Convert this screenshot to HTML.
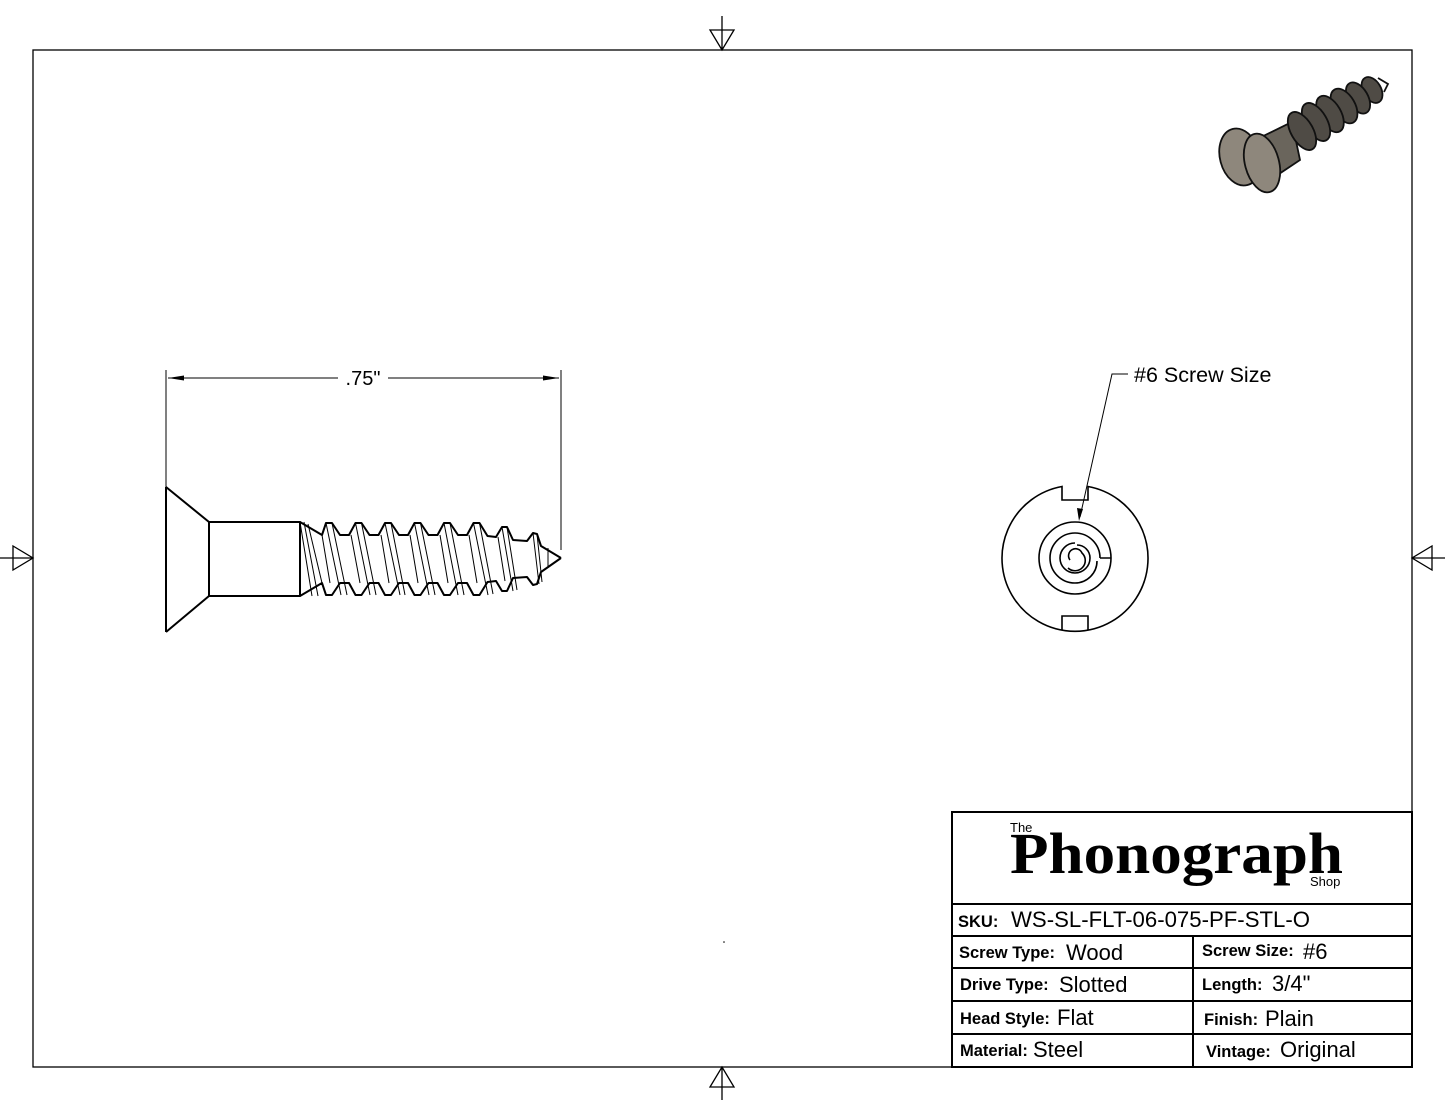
<!DOCTYPE html>
<html><head><meta charset="utf-8"><style>
html,body{margin:0;padding:0;background:#fff;}
svg{display:block;font-family:"Liberation Sans",Arial,sans-serif;}
.b{font-weight:bold;font-size:16.5px;}
.v{font-size:22px;}
</style></head><body>
<svg width="1445" height="1117" viewBox="0 0 1445 1117" xmlns="http://www.w3.org/2000/svg">
<g fill="none" stroke="#000" stroke-width="1.3">
<rect x="33" y="50" width="1379" height="1017"/>
<path d="M722,16V50 M710,30H734L722,50Z"/>
<path d="M722,1067V1100 M710,1087H734L722,1067Z"/>
<path d="M0,558H33 M13,546V570L33,558Z"/>
<path d="M1412,558H1445 M1432,546V570L1412,558Z"/>
</g>
<g stroke="#000" stroke-width="1" fill="none">
<path d="M166,370V487 M561,370V550"/>
<path d="M168,378H338 M388,378H559"/>
</g>
<path d="M168,378L184,375.5V380.5Z M559,378L543,375.5V380.5Z" fill="#000"/>
<text x="363" y="385" font-size="20" text-anchor="middle">.75"</text>
<g fill="none" stroke="#000" stroke-width="2" stroke-linejoin="round">
<path d="M166,487V632 M166,487L209,522 M166,632L209,596"/>
<rect x="209" y="522" width="91" height="74"/>
<path d="M300,522 L322,535 L326,523 L332,523 L340,535 L349,535 L355.5,523 L361.5,523 L369.5,535 L378.5,535 L385,523 L391,523 L399,535 L408,535 L414.5,523 L420.5,523 L428.5,535 L437.5,535 L444,523 L450,523 L458,535 L467,535 L473.5,523 L479.5,523 L487.5,536 L496,537 L502,527 L507,527 L513,540 L527,541 L533,533 L537,534 L541,546 L561,558"/>
<path d="M300,596 L322,583 L326,595 L332,595 L340,583 L349,583 L355.5,595 L361.5,595 L369.5,583 L378.5,583 L385,595 L391,595 L399,583 L408,583 L414.5,595 L420.5,595 L428.5,583 L437.5,583 L444,595 L450,595 L458,583 L467,583 L473.5,595 L479.5,595 L487.5,582 L496,581 L502,591 L507,591 L513,578 L527,577 L533,585 L537,584 L541,572 L561,558"/>
</g>
<g fill="none" stroke="#000" stroke-width="1">
<path d="M300,522L312,596 M304,522L318,596 M308,524L322,583"/>
<path d="M326,523L341,595 M332,523L347,595 M322,535L330,583"/>
<path d="M355.5,523L370,595 M361.5,523L376,595 M351,535L360,583"/>
<path d="M385,523L400,595 M391,523L405,595 M381,535L389,583"/>
<path d="M414.5,523L429,595 M420.5,523L435,595 M410,535L418,583"/>
<path d="M444,523L458,595 M450,523L464,595 M440,535L448,583"/>
<path d="M473.5,523L488,595 M479.5,523L493,594 M469,535L477,583"/>
<path d="M502,527L513,591 M507,527L517,590 M498,537L505,581"/>
<path d="M533,533L539,584 M537,534L542,582 M548,548V568"/>
</g>
<g fill="none" stroke="#000" stroke-width="1.6">
<path d="M1062,486.5 A73,73 0 1 0 1088,486.5 V500 H1062 Z" />
<path d="M1062,629.5V616H1088V629.5"/>
<circle cx="1075" cy="558" r="36"/>
<path d="M1100,558 A25,25 0 1 0 1075,583 A22,22 0 0 0 1097,561 M1100,558H1111"/>
<path d="M1075,543 A15,15 0 1 0 1090,558 A13,13 0 0 0 1077,545"/>
<path d="M1070,560 A7,7 0 1 1 1082,553 A10,10 0 0 1 1068,568"/>
</g>
<path d="M1128,374H1112L1080,517" fill="none" stroke="#000" stroke-width="1"/>
<path d="M1079,521L1077,508L1083,509Z" fill="#000"/>
<text x="1134" y="382" font-size="21.5">#6 Screw Size</text>
<!-- iso screw -->
<g stroke="#111" stroke-width="1.8">
<path d="M1255,140 L1292,122 L1300,160 L1270,180 Z" fill="#6a655c"/>
<g fill="#4f4b45">
<ellipse cx="1372" cy="90" rx="9" ry="14" transform="rotate(-30 1372 90)"/>
<ellipse cx="1358" cy="98" rx="10" ry="17" transform="rotate(-30 1358 98)"/>
<ellipse cx="1344" cy="106" rx="11" ry="19" transform="rotate(-30 1344 106)"/>
<ellipse cx="1330" cy="114" rx="11" ry="20" transform="rotate(-30 1330 114)"/>
<ellipse cx="1316" cy="122" rx="11" ry="21" transform="rotate(-30 1316 122)"/>
<ellipse cx="1302" cy="131" rx="11" ry="21" transform="rotate(-30 1302 131)"/>
</g>
<path d="M1378,78 L1388,84 L1384,92" fill="none"/>
<ellipse cx="1240" cy="157" rx="20" ry="29" transform="rotate(-15 1240 157)" fill="#8e877c"/>
<ellipse cx="1262" cy="163" rx="17" ry="30" transform="rotate(-15 1262 163)" fill="#8e877c"/>
</g>
<g fill="none" stroke="#000" stroke-width="2">
<rect x="952" y="812" width="460" height="255"/>
<path d="M952,904H1412 M952,936H1412 M952,968H1412 M952,1001H1412 M952,1034H1412 M1193,936V1067"/>
</g>
<text x="1010" y="832" font-size="13">The</text>
<text x="1010" y="873" font-family="Liberation Serif,serif" font-weight="bold" font-size="58" textLength="333" lengthAdjust="spacingAndGlyphs">Phonograph</text>
<text x="1310" y="886" font-size="13">Shop</text>
<text x="958" y="927" class="b">SKU:</text><text x="1011" y="927" class="v" textLength="299" lengthAdjust="spacingAndGlyphs">WS-SL-FLT-06-075-PF-STL-O</text>
<text x="959" y="958" class="b">Screw Type:</text><text x="1066" y="960" class="v">Wood</text>
<text x="1202" y="956" class="b">Screw Size:</text><text x="1303" y="959" class="v">#6</text>
<text x="960" y="990" class="b">Drive Type:</text><text x="1059" y="992" class="v">Slotted</text>
<text x="1202" y="990" class="b">Length:</text><text x="1272" y="991" class="v">3/4"</text>
<text x="960" y="1024" class="b">Head Style:</text><text x="1057" y="1025" class="v">Flat</text>
<text x="1204" y="1025" class="b">Finish:</text><text x="1265" y="1026" class="v">Plain</text>
<text x="960" y="1056" class="b">Material:</text><text x="1033" y="1057" class="v">Steel</text>
<text x="1206" y="1057" class="b">Vintage:</text><text x="1280" y="1057" class="v">Original</text>
<circle cx="724" cy="942" r="0.8" fill="#000"/>
</svg>
</body></html>
